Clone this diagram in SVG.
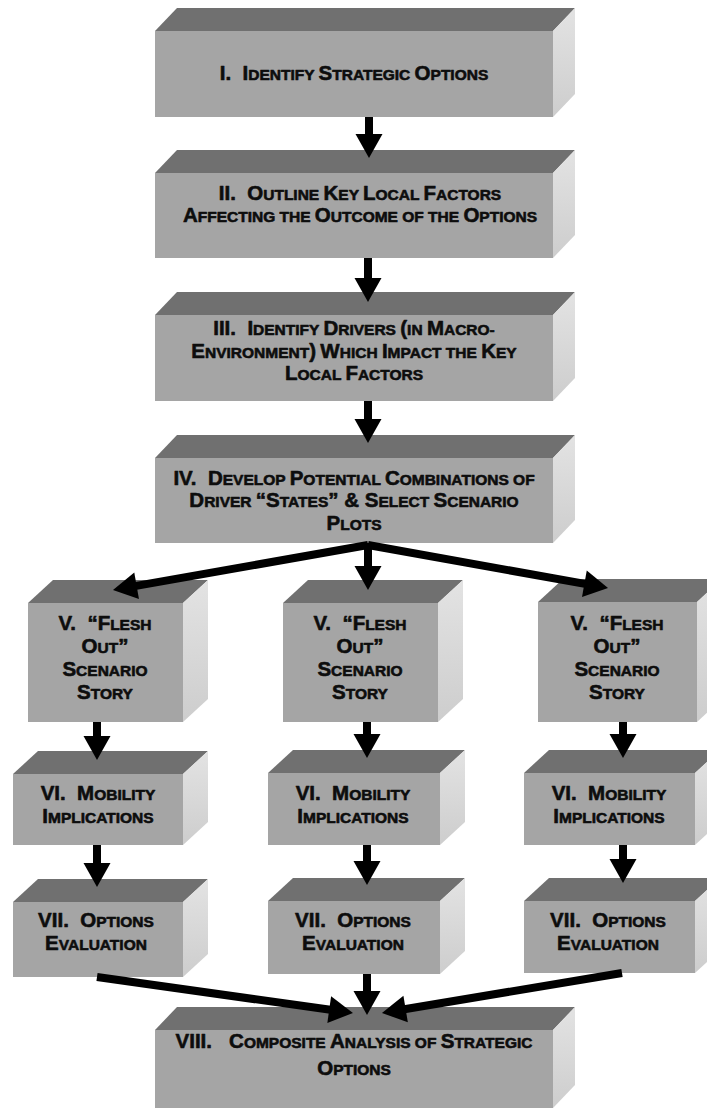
<svg xmlns="http://www.w3.org/2000/svg" width="707" height="1111" viewBox="0 0 707 1111">
<defs>
<style>
.front{fill:#a5a5a5}
.top{fill:#707070}
.side{fill:url(#sideGrad)}
.lbl{font-family:"Liberation Sans",Arial,Helvetica,sans-serif;font-weight:bold;font-size:15.5px;fill:#0d0d0d;text-anchor:middle;stroke:#0d0d0d;stroke-width:0.6;stroke-linejoin:round}
.b{font-size:20.5px}
.wire{stroke:#000;stroke-width:8;fill:none;marker-end:url(#head)}
</style>
<linearGradient id="sideGrad" x1="0" y1="0" x2="0" y2="1">
<stop offset="0" stop-color="#e3e3e3"/>
<stop offset="1" stop-color="#cdcdcd"/>
</linearGradient>
<marker id="head" markerUnits="userSpaceOnUse" orient="auto" refX="0" refY="0" markerWidth="30" markerHeight="30" overflow="visible">
<path d="M-12,-13.5 L12,0 L-12,13.5 Z" fill="#000"/>
</marker>
</defs>
<rect width="707" height="1111" fill="#fff"/>

<!-- step I -->
<g id="step-1">
<polygon class="top" points="155,31 177,8 575,8 553,31"/>
<polygon class="side" points="553,31 575,8 575,94 553,117"/>
<rect class="front" x="155" y="31" width="398" height="86"/>
<text class="lbl" x="354" y="80" xml:space="preserve"><tspan class="b">I.  I</tspan>DENTIFY <tspan class="b">S</tspan>TRATEGIC <tspan class="b">O</tspan>PTIONS</text>
</g>

<!-- step II -->
<g id="step-2">
<polygon class="top" points="155,173 177,150 575,150 553,173"/>
<polygon class="side" points="553,173 575,150 575,235 553,258"/>
<rect class="front" x="155" y="173" width="398" height="85"/>
<text class="lbl" x="360" y="200" xml:space="preserve"><tspan class="b">II.  O</tspan>UTLINE <tspan class="b">K</tspan>EY <tspan class="b">L</tspan>OCAL <tspan class="b">F</tspan>ACTORS</text>
<text class="lbl" x="360" y="222" xml:space="preserve"><tspan class="b">A</tspan>FFECTING THE <tspan class="b">O</tspan>UTCOME OF THE <tspan class="b">O</tspan>PTIONS</text>
</g>

<!-- step III -->
<g id="step-3">
<polygon class="top" points="155,315 177,292 575,292 553,315"/>
<polygon class="side" points="553,315 575,292 575,378 553,401"/>
<rect class="front" x="155" y="315" width="398" height="86"/>
<text class="lbl" x="354" y="335" xml:space="preserve"><tspan class="b">III.  I</tspan>DENTIFY <tspan class="b">D</tspan>RIVERS <tspan class="b">(</tspan>IN <tspan class="b">M</tspan>ACRO-</text>
<text class="lbl" x="354" y="358" xml:space="preserve"><tspan class="b">E</tspan>NVIRONMENT<tspan class="b">)</tspan> <tspan class="b">W</tspan>HICH <tspan class="b">I</tspan>MPACT THE <tspan class="b">K</tspan>EY</text>
<text class="lbl" x="354" y="380" xml:space="preserve"><tspan class="b">L</tspan>OCAL <tspan class="b">F</tspan>ACTORS</text>
</g>

<!-- step IV -->
<g id="step-4">
<polygon class="top" points="155,458 177,435 575,435 553,458"/>
<polygon class="side" points="553,458 575,435 575,520 553,543"/>
<rect class="front" x="155" y="458" width="398" height="85"/>
<text class="lbl" x="354" y="485" xml:space="preserve"><tspan class="b">IV.  D</tspan>EVELOP <tspan class="b">P</tspan>OTENTIAL <tspan class="b">C</tspan>OMBINATIONS OF</text>
<text class="lbl" x="354" y="507" xml:space="preserve"><tspan class="b">D</tspan>RIVER <tspan class="b">“S</tspan>TATES<tspan class="b">” &amp; S</tspan>ELECT <tspan class="b">S</tspan>CENARIO</text>
<text class="lbl" x="354" y="530" xml:space="preserve"><tspan class="b">P</tspan>LOTS</text>
</g>

<!-- step V, three scenarios -->
<g id="step-5a">
<polygon class="top" points="28,603 53,580 208,580 183,603"/>
<polygon class="side" points="183,603 208,580 208,699 183,722"/>
<rect class="front" x="28" y="603" width="155" height="119"/>
<text class="lbl" x="105" y="630" xml:space="preserve"><tspan class="b">V.  “F</tspan>LESH</text>
<text class="lbl" x="105" y="653" xml:space="preserve"><tspan class="b">O</tspan>UT<tspan class="b">”</tspan></text>
<text class="lbl" x="105" y="676" xml:space="preserve"><tspan class="b">S</tspan>CENARIO</text>
<text class="lbl" x="105" y="699" xml:space="preserve"><tspan class="b">S</tspan>TORY</text>
</g>
<g id="step-5b">
<polygon class="top" points="283,603 308,580 463,580 438,603"/>
<polygon class="side" points="438,603 463,580 463,699 438,722"/>
<rect class="front" x="283" y="603" width="155" height="119"/>
<text class="lbl" x="360" y="630" xml:space="preserve"><tspan class="b">V.  “F</tspan>LESH</text>
<text class="lbl" x="360" y="653" xml:space="preserve"><tspan class="b">O</tspan>UT<tspan class="b">”</tspan></text>
<text class="lbl" x="360" y="676" xml:space="preserve"><tspan class="b">S</tspan>CENARIO</text>
<text class="lbl" x="360" y="699" xml:space="preserve"><tspan class="b">S</tspan>TORY</text>
</g>
<g id="step-5c">
<polygon class="top" points="538,602 563,579 722,579 697,602"/>
<polygon class="side" points="697,602 722,579 722,699 697,722"/>
<rect class="front" x="538" y="602" width="159" height="120"/>
<text class="lbl" x="617" y="630" xml:space="preserve"><tspan class="b">V.  “F</tspan>LESH</text>
<text class="lbl" x="617" y="653" xml:space="preserve"><tspan class="b">O</tspan>UT<tspan class="b">”</tspan></text>
<text class="lbl" x="617" y="676" xml:space="preserve"><tspan class="b">S</tspan>CENARIO</text>
<text class="lbl" x="617" y="699" xml:space="preserve"><tspan class="b">S</tspan>TORY</text>
</g>

<!-- step VI -->
<g id="step-6a">
<polygon class="top" points="13,774 38,751 208,751 183,774"/>
<polygon class="side" points="183,774 208,751 208,822 183,845"/>
<rect class="front" x="13" y="774" width="170" height="71"/>
<text class="lbl" x="98" y="800" xml:space="preserve"><tspan class="b">VI.  M</tspan>OBILITY</text>
<text class="lbl" x="98" y="823" xml:space="preserve"><tspan class="b">I</tspan>MPLICATIONS</text>
</g>
<g id="step-6b">
<polygon class="top" points="268,773 293,750 465,750 440,773"/>
<polygon class="side" points="440,773 465,750 465,822 440,845"/>
<rect class="front" x="268" y="773" width="172" height="72"/>
<text class="lbl" x="353" y="800" xml:space="preserve"><tspan class="b">VI.  M</tspan>OBILITY</text>
<text class="lbl" x="353" y="823" xml:space="preserve"><tspan class="b">I</tspan>MPLICATIONS</text>
</g>
<g id="step-6c">
<polygon class="top" points="524,773 549,750 720,750 695,773"/>
<polygon class="side" points="695,773 720,750 720,822 695,845"/>
<rect class="front" x="524" y="773" width="171" height="72"/>
<text class="lbl" x="609" y="800" xml:space="preserve"><tspan class="b">VI.  M</tspan>OBILITY</text>
<text class="lbl" x="609" y="823" xml:space="preserve"><tspan class="b">I</tspan>MPLICATIONS</text>
</g>

<!-- step VII -->
<g id="step-7a">
<polygon class="top" points="13,902 38,879 208,879 183,902"/>
<polygon class="side" points="183,902 208,879 208,954 183,977"/>
<rect class="front" x="13" y="902" width="170" height="75"/>
<text class="lbl" x="96" y="927" xml:space="preserve"><tspan class="b">VII.  O</tspan>PTIONS</text>
<text class="lbl" x="96" y="950" xml:space="preserve"><tspan class="b">E</tspan>VALUATION</text>
</g>
<g id="step-7b">
<polygon class="top" points="268,901 293,878 465,878 440,901"/>
<polygon class="side" points="440,901 465,878 465,951 440,974"/>
<rect class="front" x="268" y="901" width="172" height="73"/>
<text class="lbl" x="353" y="927" xml:space="preserve"><tspan class="b">VII.  O</tspan>PTIONS</text>
<text class="lbl" x="353" y="950" xml:space="preserve"><tspan class="b">E</tspan>VALUATION</text>
</g>
<g id="step-7c">
<polygon class="top" points="524,901 549,878 720,878 695,901"/>
<polygon class="side" points="695,901 720,878 720,950 695,973"/>
<rect class="front" x="524" y="901" width="171" height="72"/>
<text class="lbl" x="608" y="927" xml:space="preserve"><tspan class="b">VII.  O</tspan>PTIONS</text>
<text class="lbl" x="608" y="950" xml:space="preserve"><tspan class="b">E</tspan>VALUATION</text>
</g>

<!-- step VIII -->
<g id="step-8">
<polygon class="top" points="155,1030 177,1007 575,1007 553,1030"/>
<polygon class="side" points="553,1030 575,1007 575,1085 553,1108"/>
<rect class="front" x="155" y="1030" width="398" height="78"/>
<text class="lbl" x="354" y="1048" xml:space="preserve"><tspan class="b">VIII.   C</tspan>OMPOSITE <tspan class="b">A</tspan>NALYSIS OF <tspan class="b">S</tspan>TRATEGIC</text>
<text class="lbl" x="354" y="1075" xml:space="preserve"><tspan class="b">O</tspan>PTIONS</text>
</g>

<!-- connectors: shafts end 12px short of the tip, the marker supplies the head -->
<g id="connectors">
<line class="wire" x1="369" y1="117" x2="369" y2="146"/>
<line class="wire" x1="368" y1="258" x2="368" y2="290"/>
<line class="wire" x1="368" y1="401" x2="368" y2="431"/>
<line class="wire" x1="368" y1="543" x2="368" y2="578"/>
<line class="wire" x1="368" y1="545" x2="124.8" y2="587.9"/>
<line class="wire" x1="368" y1="545" x2="596.2" y2="585.9"/>
<line class="wire" x1="97" y1="722" x2="97" y2="748"/>
<line class="wire" x1="367" y1="722" x2="367" y2="746"/>
<line class="wire" x1="623" y1="722" x2="623" y2="746"/>
<line class="wire" x1="97" y1="845" x2="97" y2="875"/>
<line class="wire" x1="367" y1="845" x2="367" y2="873"/>
<line class="wire" x1="623" y1="845" x2="623" y2="871"/>
<line class="wire" x1="97" y1="977" x2="341.1" y2="1011.3"/>
<line class="wire" x1="367" y1="974" x2="367" y2="1003"/>
<line class="wire" x1="622" y1="973" x2="393.8" y2="1011"/>
</g>
</svg>
